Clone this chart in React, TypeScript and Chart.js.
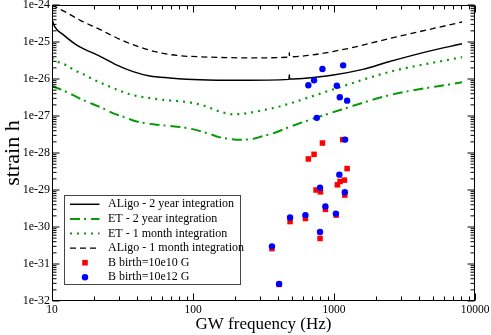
import React, { useEffect, useRef } from 'react';
import { Chart, registerables } from 'chart.js';

Chart.register(...registerables);

// ---------- data ----------
const aligo2yFreq = [10, 10.5, 12, 14.9, 17.1, 21.8, 28.6, 37.6, 49.4, 68.5, 112, 215, 480, 482, 484, 991, 1600, 2371, 4570, 8090];
const aligo2yStrain = [3.98e-25, 2.51e-25, 1.58e-25, 8.32e-26, 6.31e-26, 4.17e-26, 2.4e-26, 1.58e-26, 1.2e-26, 1.07e-26, 9.55e-27, 9.23e-27, 9.77e-27, 1.3e-26, 1.0e-26, 1.29e-26, 1.82e-26, 2.82e-26, 5.5e-26, 8.91e-26];

const et2yFreq = [10, 12, 14, 16, 19.2, 23.2, 26.9, 32.5, 37.6, 45, 53.6, 64, 92, 130, 153, 183, 219, 264, 314, 376, 488, 1104, 2518, 8090];
const et2yStrain = [6.46e-27, 4.9e-27, 3.72e-27, 2.88e-27, 2.14e-27, 1.58e-27, 1.2e-27, 9.33e-28, 7.59e-28, 6.46e-28, 5.89e-28, 5.5e-28, 4.68e-28, 3.31e-28, 2.69e-28, 2.4e-28, 2.29e-28, 2.4e-28, 2.88e-28, 3.47e-28, 5.13e-28, 1.45e-27, 3.72e-27, 8.13e-27];

const et1mFreq = [10, 11.2, 12.5, 14, 15.7, 17.6, 19.5, 21.8, 24.6, 27.4, 30.8, 34.6, 39, 44.2, 50.3, 56.6, 64.2, 94, 119, 151, 191, 245, 312, 399, 488, 1104, 2518, 8090];
const et1mStrain = [3.72e-26, 2.82e-26, 2.4e-26, 1.86e-26, 1.48e-26, 1.23e-26, 9.77e-27, 8.13e-27, 6.61e-27, 5.62e-27, 4.68e-27, 3.98e-27, 3.55e-27, 3.24e-27, 3.02e-27, 2.82e-27, 2.69e-27, 2.34e-27, 1.91e-27, 1.36e-27, 1.11e-27, 1.2e-27, 1.43e-27, 1.75e-27, 2.19e-27, 6.03e-27, 1.58e-26, 3.89e-26];

const aligo1mFreq = [10, 12.6, 16, 21.8, 30, 42, 60, 80, 112, 253, 480, 482, 484, 1104, 2518, 8090];
const aligo1mStrain = [1.0e-24, 6.31e-25, 3.8e-25, 2.19e-25, 1.2e-25, 7.24e-26, 5.01e-26, 4.27e-26, 3.98e-26, 3.72e-26, 3.89e-26, 5.2e-26, 3.98e-26, 6.03e-26, 1.26e-25, 3.47e-25];

const b10Freq = [1153, 828, 722, 658, 1239, 1186, 1104, 1057, 746, 802, 1193, 869, 488, 627, 1036, 796, 363, 408];
const b10Strain = [2.3e-28, 1.86e-28, 9.2e-29, 6.9e-29, 3.8e-29, 1.85e-29, 1.7e-29, 1.38e-29, 1.0e-29, 8.9e-30, 7.3e-30, 3.0e-30, 1.4e-30, 1.7e-30, 2.1e-30, 4.9e-31, 2.6e-31, 2.8e-32];

const b12Freq = [828, 1161, 722, 658, 1047, 1099, 1239, 755, 1199, 1091, 796, 1193, 869, 488, 627, 1031, 796, 363, 408];
const b12Strain = [1.86e-26, 2.34e-26, 9.2e-27, 6.8e-27, 6.6e-27, 3.2e-27, 2.6e-27, 8.9e-28, 2.3e-28, 2.6e-29, 1.15e-29, 8.7e-30, 3.6e-30, 1.8e-30, 2.1e-30, 2.3e-30, 7.3e-31, 3.0e-31, 2.9e-32];

const xTickValues = [10, 100, 1000, 10000];
const xTickLabels = ['10', '100', '1000', '10000'];
const yTickValues = [1e-32, 1e-31, 1e-30, 1e-29, 1e-28, 1e-27, 1e-26, 1e-25, 1e-24];
const yTickLabels = ['1e-32', '1e-31', '1e-30', '1e-29', '1e-28', '1e-27', '1e-26', '1e-25', '1e-24'];

const labels = [
  'ALigo - 2 year integration',
  'ET - 2 year integration',
  'ET - 1 month integration',
  'ALigo - 1 month integration',
  'B birth=10e10 G',
  'B birth=10e12 G',
];

const SERIF = "'Liberation Serif', 'Times New Roman', serif";
const GREEN = '#079a07';

const toPts = (xs: number[], ys: number[]) => xs.map((x, i) => ({ x, y: ys[i] }));

const frameTicksPlugin = {
  id: 'frameTicks',
  afterDraw(chart: any) {
    const { ctx, chartArea: a, scales } = chart;
    const xs = scales.x;
    const ys = scales.y;
    ctx.save();
    ctx.strokeStyle = '#000';
    ctx.lineWidth = 1;
    ctx.setLineDash([]);
    const L = Math.round(a.left) + 0.5;
    const R = Math.round(a.right) - 0.5;
    const T = Math.round(a.top) + 0.5;
    const B = Math.round(a.bottom) - 0.5;
    ctx.strokeRect(L, T, R - L, B - T);
    ctx.beginPath();
    for (let d = 1; d <= 4; d++) {
      for (let m = 1; m <= 9; m++) {
        if (d === 4 && m > 1) break;
        const v = m * Math.pow(10, d);
        const px = Math.round(xs.getPixelForValue(v)) + 0.5;
        const len = m === 1 ? 7 : 4;
        ctx.moveTo(px, B);
        ctx.lineTo(px, B - len);
        ctx.moveTo(px, T);
        ctx.lineTo(px, T + len);
      }
    }
    for (let e = -32; e <= -24; e++) {
      for (let m = 1; m <= 9; m++) {
        if (e === -24 && m > 1) break;
        const v = m * Math.pow(10, e);
        const py = ys.getPixelForValue(v);
        const len = m === 1 ? 7 : 4;
        ctx.moveTo(L, py);
        ctx.lineTo(L + len, py);
        ctx.moveTo(R, py);
        ctx.lineTo(R - len, py);
      }
    }
    ctx.stroke();
    ctx.restore();
  },
};

const legendPlugin = {
  id: 'boxLegend',
  afterDraw(chart: any) {
    const { ctx } = chart;
    ctx.save();
    const x0 = 64.5, y0 = 195.5, w = 176, h = 89;
    ctx.fillStyle = '#fff';
    ctx.fillRect(x0, y0, w, h);
    ctx.strokeStyle = '#444';
    ctx.lineWidth = 1;
    ctx.setLineDash([]);
    ctx.strokeRect(x0, y0, w, h);
    labels.forEach((label, i) => {
      const ds: any = chart.data.datasets.find((d: any) => d.label === label);
      const cy = 204.3 + i * 14.6;
      if (ds.showLine) {
        ctx.save();
        ctx.strokeStyle = ds.borderColor;
        ctx.lineWidth = ds.borderWidth;
        ctx.setLineDash(ds.borderDash || []);
        ctx.beginPath();
        ctx.moveTo(70, cy);
        ctx.lineTo(99.5, cy);
        ctx.stroke();
        ctx.restore();
      } else {
        ctx.fillStyle = ds.backgroundColor;
        if (ds.pointStyle === 'rect') {
          ctx.fillRect(85 - 2.8, cy - 2.8, 5.6, 5.6);
        } else {
          ctx.beginPath();
          ctx.arc(85, cy, 3.2, 0, Math.PI * 2);
          ctx.fill();
        }
      }
      ctx.fillStyle = '#000';
      ctx.font = `12px ${SERIF}`;
      ctx.textAlign = 'left';
      ctx.textBaseline = 'middle';
      ctx.fillText(label, 108, cy);
    });
    ctx.restore();
  },
};

export default function App() {
  const ref = useRef<HTMLCanvasElement | null>(null);
  useEffect(() => {
    document.body.style.margin = '0';
    if (!ref.current) return;
    const lineBase = { showLine: true, pointRadius: 0, pointHoverRadius: 0, fill: false, cubicInterpolationMode: 'monotone', order: 2 };
    const chart = new Chart(ref.current, {
      type: 'scatter',
      data: {
        datasets: [
          { ...lineBase, label: labels[0], data: toPts(aligo2yFreq, aligo2yStrain), borderColor: '#000', borderWidth: 1.5, borderDash: [] },
          { ...lineBase, label: labels[1], data: toPts(et2yFreq, et2yStrain), borderColor: GREEN, borderWidth: 2, borderDash: [10, 4, 2, 5] },
          { ...lineBase, label: labels[2], data: toPts(et1mFreq, et1mStrain), borderColor: GREEN, borderWidth: 2.2, borderDash: [2, 5] },
          { ...lineBase, label: labels[3], data: toPts(aligo1mFreq, aligo1mStrain), borderColor: '#000', borderWidth: 1.3, borderDash: [6, 4] },
          { label: labels[4], data: toPts(b10Freq, b10Strain), showLine: false, pointStyle: 'rect', pointRadius: 3.9, pointHoverRadius: 3.9, backgroundColor: '#ff0000', borderColor: '#ff0000', borderWidth: 0, order: 1 },
          { label: labels[5], data: toPts(b12Freq, b12Strain), showLine: false, pointStyle: 'circle', pointRadius: 3.2, pointHoverRadius: 3.2, backgroundColor: '#0000ff', borderColor: '#0000ff', borderWidth: 0, order: 0 },
        ] as any,
      },
      options: {
        animation: false,
        responsive: false,
        devicePixelRatio: 1,
        events: [],
        layout: { padding: { top: 5, right: 16, left: 0, bottom: 0 } },
        plugins: { legend: { display: false }, tooltip: { enabled: false } },
        scales: {
          x: {
            type: 'logarithmic',
            min: 10,
            max: 10000,
            grid: { display: false, drawTicks: false },
            border: { display: false },
            afterBuildTicks: (s: any) => { s.ticks = xTickValues.map((v) => ({ value: v })); },
            afterFit: (s: any) => { s.height = 34; s.paddingLeft = 0; s.paddingRight = 0; },
            ticks: {
              autoSkip: false,
              maxRotation: 0,
              padding: 2,
              color: '#000',
              font: { family: SERIF, size: 11.5 },
              callback: (_v: any, i: number) => xTickLabels[i],
            },
            title: { display: true, text: 'GW frequency (Hz)', color: '#000', font: { family: SERIF, size: 17 }, padding: { top: 0, bottom: 0.5 } },
          },
          y: {
            type: 'logarithmic',
            min: 1e-32,
            max: 1e-24,
            grid: { display: false, drawTicks: false },
            border: { display: false },
            afterBuildTicks: (s: any) => { s.ticks = yTickValues.map((v) => ({ value: v })); },
            afterFit: (s: any) => { s.width = 52; s.paddingTop = 0; s.paddingBottom = 0; },
            ticks: {
              autoSkip: false,
              padding: 2,
              color: '#000',
              font: { family: SERIF, size: 12 },
              callback: (_v: any, i: number) => yTickLabels[i],
            },
            title: { display: true, text: 'strain h', color: '#000', font: { family: SERIF, size: 22, lineHeight: 1.1 }, padding: { top: 1, bottom: 0 } },
          },
        },
      } as any,
      plugins: [frameTicksPlugin, legendPlugin],
    });
    return () => chart.destroy();
  }, []);
  return <canvas ref={ref} width={491} height={335} style={{ display: 'block', width: 491, height: 335 }} />;
}
